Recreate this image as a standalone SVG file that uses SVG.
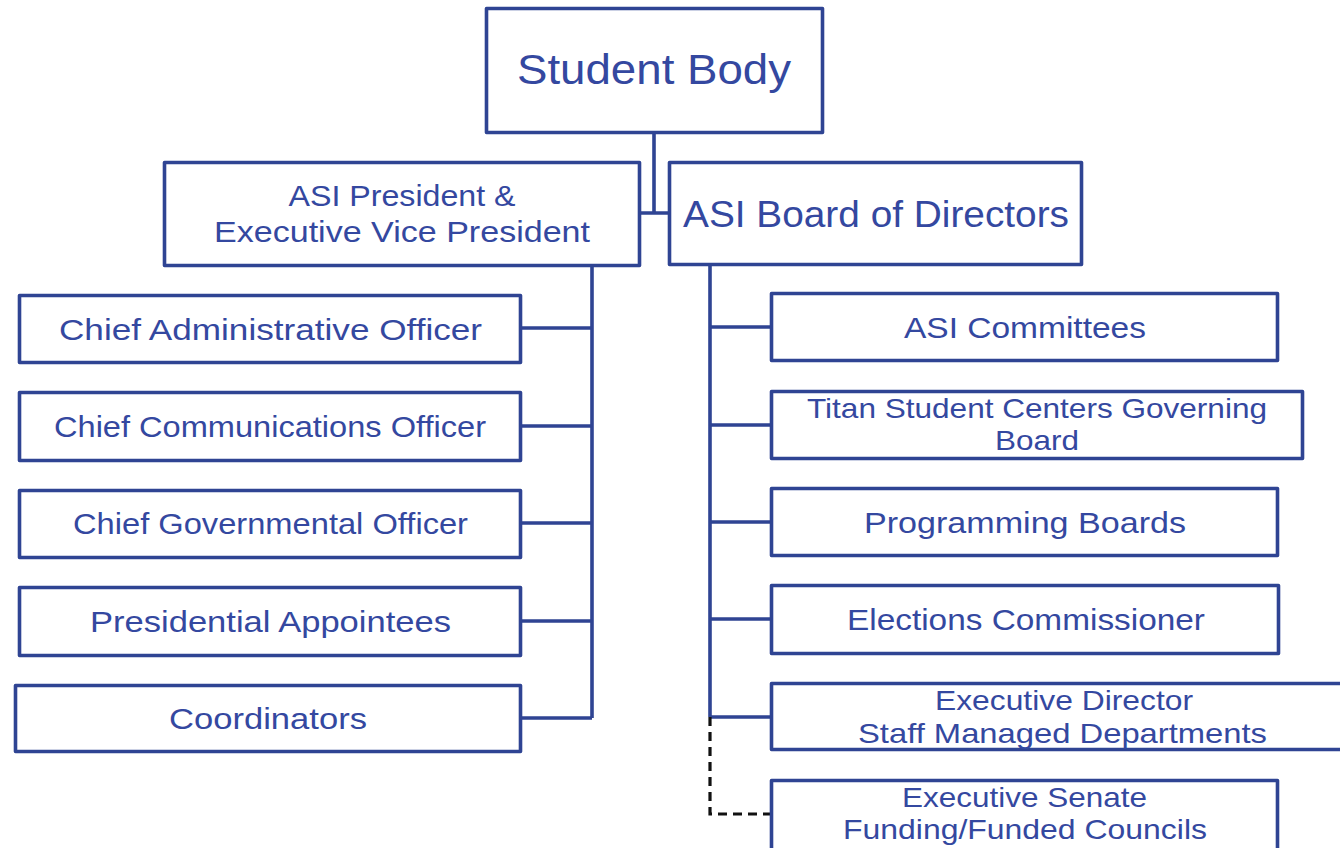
<svg xmlns="http://www.w3.org/2000/svg" width="1340" height="848" viewBox="0 0 1340 848">
<style>
.box{fill:#fff;stroke:#2F4493;stroke-width:3.6;stroke-linejoin:round}
.t{font-family:"Liberation Sans",Arial,sans-serif;fill:#3448A0;text-anchor:middle}
.s30{font-size:30px}
.s28{font-size:28px}
.line{fill:none;stroke:#2F4493;stroke-width:3.6}
.dash{fill:none;stroke:#111;stroke-width:3.2;stroke-dasharray:9,6}
</style>
<rect width="1340" height="848" fill="#fff"/>
<g id="connectors">
<path class="line" d="M654 133V213M640 213H669"/>
<path class="line" d="M592 266V718M521 328H592M521 426H592M521 523H592M521 621H592M521 718H592"/>
<path class="line" d="M710 265V717M710 327H771M710 425H771M710 522H771M710 619H771M710 717H771"/>
<path class="dash" d="M710 717V814H771"/>
</g>
<g id="student-body"><rect class="box" x="486.5" y="8.5" width="336" height="124"/><text class="t" x="654" y="84" font-size="42" textLength="274" lengthAdjust="spacingAndGlyphs">Student Body</text></g>
<g id="asi-president"><rect class="box" x="164.5" y="162.5" width="475" height="103"/><text class="t s30" x="402" y="206" textLength="227" lengthAdjust="spacingAndGlyphs">ASI President &amp;</text><text class="t s30" x="402" y="242" textLength="376" lengthAdjust="spacingAndGlyphs">Executive Vice President</text></g>
<g id="asi-board"><rect class="box" x="669.5" y="162.5" width="412" height="102"/><text class="t" x="876" y="227" font-size="37" textLength="386" lengthAdjust="spacingAndGlyphs">ASI Board of Directors</text></g>
<g id="cao"><rect class="box" x="19.5" y="295.5" width="501" height="67"/><text class="t s30" x="270.5" y="340" textLength="423" lengthAdjust="spacingAndGlyphs">Chief Administrative Officer</text></g>
<g id="cco"><rect class="box" x="19.5" y="392.5" width="501" height="68"/><text class="t s30" x="270" y="437" textLength="432" lengthAdjust="spacingAndGlyphs">Chief Communications Officer</text></g>
<g id="cgo"><rect class="box" x="19.5" y="490.5" width="501" height="67"/><text class="t s30" x="270.5" y="534" textLength="395" lengthAdjust="spacingAndGlyphs">Chief Governmental Officer</text></g>
<g id="appointees"><rect class="box" x="19.5" y="587.5" width="501" height="68"/><text class="t s30" x="270.5" y="632" textLength="361" lengthAdjust="spacingAndGlyphs">Presidential Appointees</text></g>
<g id="coordinators"><rect class="box" x="15.5" y="685.5" width="505" height="66"/><text class="t s30" x="268" y="729" textLength="198" lengthAdjust="spacingAndGlyphs">Coordinators</text></g>
<g id="committees"><rect class="box" x="771.5" y="293.5" width="506" height="67"/><text class="t s30" x="1025" y="338" textLength="242" lengthAdjust="spacingAndGlyphs">ASI Committees</text></g>
<g id="titan"><rect class="box" x="771.5" y="391.5" width="531" height="67"/><text class="t s28" x="1037" y="418" textLength="460" lengthAdjust="spacingAndGlyphs">Titan Student Centers Governing</text><text class="t s28" x="1037" y="450" textLength="84" lengthAdjust="spacingAndGlyphs">Board</text></g>
<g id="programming"><rect class="box" x="771.5" y="488.5" width="506" height="67"/><text class="t s30" x="1025" y="533" textLength="322" lengthAdjust="spacingAndGlyphs">Programming Boards</text></g>
<g id="elections"><rect class="box" x="771.5" y="585.5" width="507" height="68"/><text class="t s30" x="1026" y="630" textLength="358" lengthAdjust="spacingAndGlyphs">Elections Commissioner</text></g>
<g id="exec-director"><rect class="box" x="771.5" y="683.5" width="580" height="66"/><text class="t s28" x="1064" y="710" textLength="258" lengthAdjust="spacingAndGlyphs">Executive Director</text><text class="t s28" x="1062.5" y="743" textLength="409" lengthAdjust="spacingAndGlyphs">Staff Managed Departments</text></g>
<g id="exec-senate"><rect class="box" x="771.5" y="780.5" width="506" height="80"/><text class="t s28" x="1024.5" y="807" textLength="245" lengthAdjust="spacingAndGlyphs">Executive Senate</text><text class="t s28" x="1025" y="839" textLength="364" lengthAdjust="spacingAndGlyphs">Funding/Funded Councils</text></g>
</svg>
